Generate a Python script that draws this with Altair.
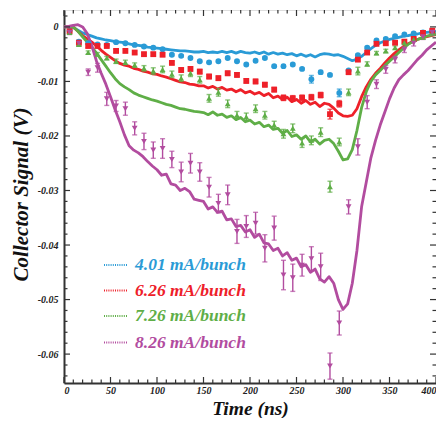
import altair as alt
import pandas as pd

# ---------------- data ----------------
series = ["4.01 mA/bunch", "6.26 mA/bunch", "7.26 mA/bunch", "8.26 mA/bunch"]
colors = ["#2a9bd6", "#ee2029", "#5fae47", "#b24c9f"]
shapes = ["circle", "square", "triangle-up", "triangle-down"]

# measured signal (lines), sampled every 5 ns
t_line = list(range(0, 405, 5))
line_401 = [0.0, 0.0, -0.0001, -0.0006, -0.0011, -0.0014, -0.0017, -0.0020, -0.0022, -0.0024,
            -0.0025, -0.0027, -0.0028, -0.0029, -0.0031, -0.0033, -0.0034, -0.0035, -0.0037, -0.0038,
            -0.0039, -0.0040, -0.0041, -0.0042, -0.0043, -0.0044, -0.0044, -0.0045, -0.0046, -0.0046,
            -0.0045, -0.0047, -0.0046, -0.0047, -0.0045, -0.0047, -0.0045, -0.0048, -0.0045, -0.0047,
            -0.0048, -0.0046, -0.0049, -0.0046, -0.0050, -0.0047, -0.0050, -0.0048, -0.0051, -0.0049,
            -0.0053, -0.0050, -0.0054, -0.0051, -0.0055, -0.0051, -0.0049, -0.0050, -0.0052, -0.0051,
            -0.0054, -0.0058, -0.0062, -0.0059, -0.0054, -0.0047, -0.0040, -0.0034, -0.0029, -0.0026,
            -0.0023, -0.0021, -0.0019, -0.0017, -0.0016, -0.0014, -0.0013, -0.0011, -0.0010, -0.0009,
            -0.0008]
line_626 = [0.0, 0.0, 0.0, -0.0008, -0.0016, -0.0022, -0.0028, -0.0035, -0.0043, -0.0050,
            -0.0056, -0.0062, -0.0067, -0.0070, -0.0072, -0.0076, -0.0078, -0.0081, -0.0083, -0.0086,
            -0.0087, -0.0090, -0.0092, -0.0095, -0.0098, -0.0101, -0.0102, -0.0105, -0.0106, -0.0108,
            -0.0108, -0.0112, -0.0109, -0.0114, -0.0111, -0.0116, -0.0114, -0.0119, -0.0115, -0.0121,
            -0.0118, -0.0123, -0.0120, -0.0126, -0.0122, -0.0130, -0.0127, -0.0133, -0.0129, -0.0137,
            -0.0133, -0.0140, -0.0135, -0.0142, -0.0138, -0.0146, -0.0140, -0.0142, -0.0149, -0.0158,
            -0.0163, -0.0164, -0.0162, -0.0150, -0.0128, -0.0110, -0.0096, -0.0085, -0.0076, -0.0066,
            -0.0057, -0.0049, -0.0042, -0.0036, -0.0031, -0.0027, -0.0023, -0.0020, -0.0018, -0.0016,
            -0.0014]
line_726 = [0.0, 0.0, 0.0, -0.0008, -0.0018, -0.0028, -0.0037, -0.0048, -0.0060, -0.0072,
            -0.0084, -0.0095, -0.0104, -0.0110, -0.0115, -0.0121, -0.0125, -0.0128, -0.0131, -0.0134,
            -0.0136, -0.0139, -0.0142, -0.0144, -0.0147, -0.0150, -0.0151, -0.0153, -0.0155, -0.0156,
            -0.0157, -0.0161, -0.0156, -0.0162, -0.0160, -0.0166, -0.0163, -0.0170, -0.0166, -0.0174,
            -0.0171, -0.0178, -0.0175, -0.0183, -0.0180, -0.0188, -0.0186, -0.0195, -0.0190, -0.0201,
            -0.0198, -0.0206, -0.0200, -0.0211, -0.0206, -0.0215, -0.0208, -0.0206, -0.0214, -0.0228,
            -0.0244, -0.0242, -0.0225, -0.0190, -0.0148, -0.0119, -0.0100, -0.0088, -0.0080, -0.0071,
            -0.0063, -0.0055, -0.0047, -0.0039, -0.0032, -0.0027, -0.0023, -0.0020, -0.0017, -0.0015,
            -0.0013]
line_826 = [0.0, 0.0001, 0.0003, 0.0004, 0.0000, -0.0012, -0.0035, -0.0063, -0.0085, -0.0105,
            -0.0128, -0.0152, -0.0174, -0.0198, -0.0218, -0.0226, -0.0231, -0.0238, -0.0247, -0.0255,
            -0.0262, -0.0272, -0.0270, -0.0288, -0.0290, -0.0300, -0.0296, -0.0302, -0.0316, -0.0318,
            -0.0320, -0.0334, -0.0330, -0.0340, -0.0338, -0.0354, -0.0352, -0.0366, -0.0364, -0.0376,
            -0.0372, -0.0386, -0.0380, -0.0396, -0.0398, -0.0410, -0.0406, -0.0420, -0.0414, -0.0428,
            -0.0424, -0.0440, -0.0436, -0.0450, -0.0444, -0.0462, -0.0468, -0.0458, -0.0470, -0.0500,
            -0.0518, -0.0508, -0.0470, -0.0410, -0.0330, -0.0285, -0.0240, -0.0208, -0.0180, -0.0156,
            -0.0132, -0.0112, -0.0097, -0.0088, -0.0080, -0.0070, -0.0060, -0.0052, -0.0042, -0.0035,
            -0.0028]

# simulation points with error bars, every 10 ns
t_sim = list(range(6, 400, 10))
sim_401 = [-0.0007, -0.0027, -0.0030, -0.0032, -0.0033, -0.0028, -0.0030, -0.0033, -0.0036, -0.0038,
           -0.0041, -0.0051, -0.0053, -0.0057, -0.0063, -0.0065, -0.0063, -0.0057, -0.0063, -0.0069,
           -0.0062, -0.0057, -0.0072, -0.0072, -0.0069, -0.0077, -0.0096, -0.0083, -0.0088, -0.0121,
           -0.0080, -0.0052, -0.0038, -0.0025, -0.0022, -0.0017, -0.0014, -0.0012, -0.0010, -0.0009]
err_401 = [0.0001, 0.0002, 0.0002, 0.0002, 0.0002, 0.0002, 0.0002, 0.0002, 0.0002, 0.0002,
           0.0002, 0.0002, 0.0002, 0.0002, 0.0002, 0.0002, 0.0002, 0.0002, 0.0002, 0.0002,
           0.0002, 0.0002, 0.0002, 0.0002, 0.0002, 0.0002, 0.0007, 0.0003, 0.0002, 0.0007,
           0.0002, 0.0002, 0.0002, 0.0002, 0.0002, 0.0002, 0.0002, 0.0002, 0.0002, 0.0002]
sim_626 = [-0.0008, -0.0029, -0.0035, -0.0035, -0.0035, -0.0044, -0.0044, -0.0047, -0.0050, -0.0050,
           -0.0051, -0.0066, -0.0079, -0.0077, -0.0082, -0.0091, -0.0094, -0.0085, -0.0088, -0.0099,
           -0.0100, -0.0106, -0.0115, -0.0130, -0.0131, -0.0130, -0.0129, -0.0125, -0.0160, -0.0141,
           -0.0083, -0.0060, -0.0047, -0.0031, -0.0030, -0.0029, -0.0027, -0.0022, -0.0011, -0.0007]
err_626 = [0.0002, 0.0003, 0.0003, 0.0003, 0.0003, 0.0003, 0.0003, 0.0003, 0.0003, 0.0003,
           0.0003, 0.0003, 0.0004, 0.0004, 0.0004, 0.0004, 0.0004, 0.0004, 0.0004, 0.0004,
           0.0004, 0.0004, 0.0004, 0.0005, 0.0005, 0.0005, 0.0005, 0.0005, 0.0009, 0.0006,
           0.0004, 0.0003, 0.0003, 0.0003, 0.0003, 0.0003, 0.0003, 0.0003, 0.0003, 0.0003]
sim_726 = [-0.0010, -0.0032, -0.0047, -0.0050, -0.0057, -0.0063, -0.0065, -0.0070, -0.0076, -0.0081,
           -0.0078, -0.0087, -0.0094, -0.0085, -0.0097, -0.0131, -0.0120, -0.0141, -0.0162, -0.0165,
           -0.0150, -0.0162, -0.0180, -0.0196, -0.0186, -0.0213, -0.0208, -0.0193, -0.0293, -0.0211,
           -0.0120, -0.0081, -0.0068, -0.0048, -0.0044, -0.0038, -0.0029, -0.0023, -0.0019, -0.0011]
err_726 = [0.0002, 0.0003, 0.0003, 0.0003, 0.0003, 0.0004, 0.0004, 0.0004, 0.0005, 0.0006,
           0.0006, 0.0006, 0.0006, 0.0006, 0.0006, 0.0007, 0.0007, 0.0007, 0.0007, 0.0007,
           0.0007, 0.0007, 0.0007, 0.0008, 0.0008, 0.0008, 0.0008, 0.0008, 0.0010, 0.0007,
           0.0006, 0.0007, 0.0004, 0.0003, 0.0003, 0.0003, 0.0003, 0.0003, 0.0003, 0.0003]
sim_826 = [-0.0010, -0.0030, -0.0083, -0.0075, -0.0132, -0.0145, -0.0150, -0.0186, -0.0210, -0.0226,
           -0.0223, -0.0243, -0.0266, -0.0250, -0.0266, -0.0294, -0.0324, -0.0308, -0.0375, -0.0366,
           -0.0360, -0.0406, -0.0369, -0.0455, -0.0460, -0.0437, -0.0425, -0.0440, -0.0622, -0.0543,
           -0.0330, -0.0220, -0.0138, -0.0105, -0.0078, -0.0060, -0.0042, -0.0030, -0.0018, -0.0010]
err_826 = [0.0004, 0.0005, 0.0006, 0.0008, 0.0012, 0.0010, 0.0012, 0.0012, 0.0015, 0.0015,
           0.0018, 0.0015, 0.0018, 0.0018, 0.0017, 0.0018, 0.0017, 0.0018, 0.0022, 0.0020,
           0.0020, 0.0025, 0.0022, 0.0027, 0.0025, 0.0020, 0.0022, 0.0025, 0.0024, 0.0022,
           0.0013, 0.0015, 0.0012, 0.0008, 0.0007, 0.0006, 0.0005, 0.0005, 0.0005, 0.0005]

x_ticks = [0, 50, 100, 150, 200, 250, 300, 350, 400]
y_ticks = [0.0, -0.01, -0.02, -0.03, -0.04, -0.05, -0.06]
x_minor = [m for m in range(10, 400, 10) if m % 50 != 0]
y_minor = [round(0.002 - 0.002 * k, 3) for k in range(34) if round((0.002 - 0.002 * k) * 1000) % 10 != 0]

# ---------------- tables ----------------
lines_all = [line_401, line_626, line_726, line_826]
sims_all = [sim_401, sim_626, sim_726, sim_826]
errs_all = [err_401, err_626, err_726, err_826]

line_rows = []
for s, vals in zip(series, lines_all):
    for t, v in zip(t_line, vals):
        line_rows.append({"series": s, "t": t, "v": v})
lines_df = pd.DataFrame(line_rows)

sim_rows = []
for s, vals, errs in zip(series, sims_all, errs_all):
    for t, v, e in zip(t_sim, vals, errs):
        sim_rows.append({"series": s, "t": t, "v": v, "lo": v - e, "hi": v + e})
sim_df = pd.DataFrame(sim_rows)

W, H = 372, 373
FONT = "Liberation Serif"
XD = [0, 400]
YD = [-0.0653, 0.0031]

xs = alt.Scale(domain=XD, nice=False, zero=False)
ys = alt.Scale(domain=YD, nice=False, zero=False)
cs = alt.Scale(domain=series, range=colors)
ss = alt.Scale(domain=series, range=shapes)

x_enc = alt.X("t:Q", scale=xs,
              axis=alt.Axis(values=x_ticks, title="Time (ns)", ticks=False, tickSize=0, grid=False,
                            labelFlush=True, labelOverlap=False,
                            labelFont=FONT, labelFontSize=10, labelFontStyle="italic",
                            labelFontWeight="bold", labelColor="#222", labelPadding=2,
                            titleFont=FONT, titleFontSize=19.5, titleFontStyle="italic",
                            titleFontWeight="bold", titleColor="#111",
                            titleY=31, titleBaseline="alphabetic",
                            domainColor="#333", domainWidth=2))
y_enc = alt.Y("v:Q", scale=ys,
              axis=alt.Axis(values=y_ticks, title="Collector Signal (V)", ticks=False, tickSize=0,
                            grid=False, labelFlush=False, labelOverlap=False,
                            labelExpr="datum.value == 0 ? '0' : '-' + format(abs(datum.value), '.2f')",
                            labelFont=FONT, labelFontSize=10, labelFontStyle="italic",
                            labelFontWeight="bold", labelColor="#222", labelPadding=6,
                            titleFont=FONT, titleFontSize=21, titleFontStyle="italic",
                            titleFontWeight="bold", titleColor="#111",
                            titleAngle=-90, titleX=-37, titleY=184, titleAlign="center",
                            titleBaseline="alphabetic",
                            domainColor="#333", domainWidth=2))

lines = alt.Chart(lines_df).mark_line(strokeWidth=2.8, strokeJoin="round").encode(
    x=x_enc, y=y_enc,
    color=alt.Color("series:N", scale=cs, legend=None),
    order="t:Q")

bars = alt.Chart(sim_df).mark_rule(strokeWidth=1.4).encode(
    x=alt.X("t:Q", scale=xs), y=alt.Y("lo:Q", scale=ys), y2="hi:Q",
    color=alt.Color("series:N", scale=cs, legend=None))
cap_lo = alt.Chart(sim_df).mark_tick(orient="horizontal", size=5, thickness=1.4).encode(
    x=alt.X("t:Q", scale=xs), y=alt.Y("lo:Q", scale=ys),
    color=alt.Color("series:N", scale=cs, legend=None))
cap_hi = alt.Chart(sim_df).mark_tick(orient="horizontal", size=5, thickness=1.4).encode(
    x=alt.X("t:Q", scale=xs), y=alt.Y("hi:Q", scale=ys),
    color=alt.Color("series:N", scale=cs, legend=None))
points = alt.Chart(sim_df).mark_point(filled=True, size=34, opacity=1).encode(
    x=alt.X("t:Q", scale=xs), y=alt.Y("v:Q", scale=ys),
    color=alt.Color("series:N", scale=cs, legend=None),
    shape=alt.Shape("series:N", scale=ss, legend=None))

# inward ticks on all four sides
xmaj = pd.DataFrame({"t": x_ticks})
xmin = pd.DataFrame({"t": x_minor})
ymaj = pd.DataFrame({"v": y_ticks})
ymin = pd.DataFrame({"v": y_minor})
tick_layers = []
for df, ln in [(xmaj, 6), (xmin, 3.5)]:
    tick_layers.append(alt.Chart(df).mark_rule(color="#333", strokeWidth=1.2).encode(
        x=alt.X("t:Q", scale=xs), y=alt.value(H), y2=alt.value(H - ln)))
    tick_layers.append(alt.Chart(df).mark_rule(color="#333", strokeWidth=1.2).encode(
        x=alt.X("t:Q", scale=xs), y=alt.value(0), y2=alt.value(ln)))
for df, ln in [(ymaj, 6), (ymin, 3.5)]:
    tick_layers.append(alt.Chart(df).mark_rule(color="#333", strokeWidth=1.2).encode(
        y=alt.Y("v:Q", scale=ys), x=alt.value(0), x2=alt.value(ln)))
    tick_layers.append(alt.Chart(df).mark_rule(color="#333", strokeWidth=1.2).encode(
        y=alt.Y("v:Q", scale=ys), x=alt.value(W), x2=alt.value(W - ln)))

# legend drawn in the plot
one = pd.DataFrame({"k": [0]})
leg_y = [255, 280.5, 306, 332.5]
leg_layers = []
for s, c, yy in zip(series, colors, leg_y):
    leg_layers.append(alt.Chart(one).mark_rule(color=c, strokeWidth=2, strokeDash=[1, 1.2]).encode(
        x=alt.value(40), x2=alt.value(64), y=alt.value(yy)))
    leg_layers.append(alt.Chart(one).mark_text(text=s, color=c, font=FONT, fontSize=17.5,
                                               fontStyle="italic", fontWeight="bold",
                                               align="left", baseline="middle").encode(
        x=alt.value(71), y=alt.value(yy)))

chart = alt.layer(lines, bars, cap_lo, cap_hi, points, *tick_layers, *leg_layers).properties(
    width=W, height=H,
    autosize=alt.AutoSizeParams(type="none"),
    padding={"left": 56, "top": 2, "right": 0, "bottom": 35},
).configure_view(stroke="#333", strokeWidth=1.2).configure(background="white")

chart.save("out.html", embed_options={"renderer": "svg", "actions": False})
